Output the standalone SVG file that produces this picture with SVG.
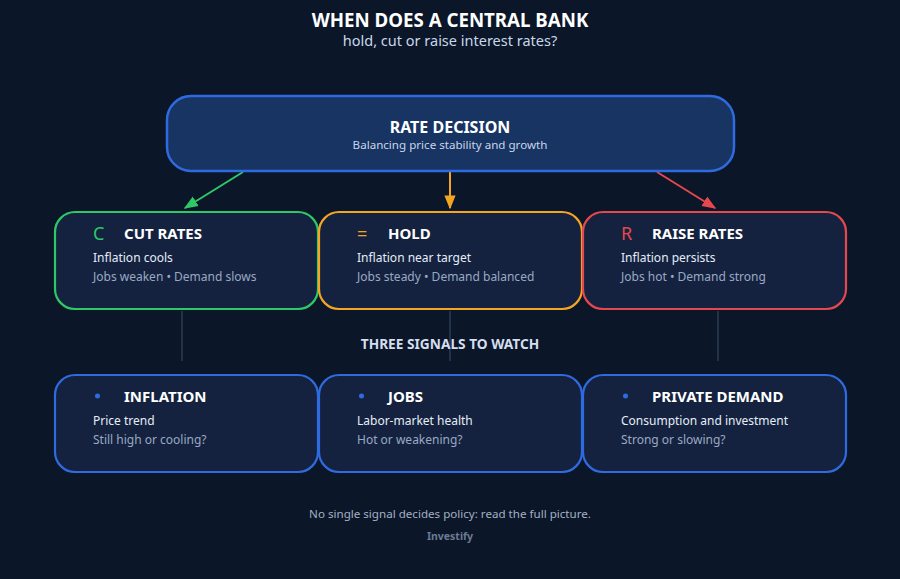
<svg xmlns="http://www.w3.org/2000/svg" width="900" height="579" viewBox="0 0 900 579">
<defs>
<style>
text{font-family:"Noto Sans","Open Sans","DejaVu Sans",sans-serif}
.t{fill:#ffffff;font-weight:700}
.s{fill:#c9d6ea}
.m{fill:#e6edf7;font-size:12px}
.d{fill:#9aa9c1;font-size:12px}
.box{fill:#142240;stroke-width:2.2}
.h{font-size:15px;font-weight:700;fill:#ffffff}
.ic{font-size:18px}
</style>
<marker id="ag" viewBox="0 0 10 10" refX="9" refY="5" markerWidth="7" markerHeight="7" orient="auto-start-reverse"><path d="M0,1 L10,5 L0,9 z" fill="#2ec866"/></marker>
<marker id="ao" viewBox="0 0 10 10" refX="9" refY="5" markerWidth="7" markerHeight="7" orient="auto-start-reverse"><path d="M0,1 L10,5 L0,9 z" fill="#f4a623"/></marker>
<marker id="ar" viewBox="0 0 10 10" refX="9" refY="5" markerWidth="7" markerHeight="7" orient="auto-start-reverse"><path d="M0,1 L10,5 L0,9 z" fill="#e5484d"/></marker>
</defs>
<rect width="900" height="579" fill="#0b1628"/>
<text x="450" y="27" text-anchor="middle" class="t" font-size="18.7">WHEN DOES A CENTRAL BANK</text>
<text x="450" y="46" text-anchor="middle" class="s" font-size="14.5">hold, cut or raise interest rates?</text>

<g id="connectors">
<line x1="243" y1="172" x2="185" y2="208" stroke="#2ec866" stroke-width="2" marker-end="url(#ag)"/>
<line x1="450" y1="172" x2="450" y2="208" stroke="#f4a623" stroke-width="2" marker-end="url(#ao)"/>
<line x1="657" y1="172" x2="715" y2="208" stroke="#e5484d" stroke-width="2" marker-end="url(#ar)"/>
<line x1="182" y1="311" x2="182" y2="361" stroke="#3a4f6e" stroke-width="1"/>
<line x1="450" y1="311" x2="450" y2="361" stroke="#3a4f6e" stroke-width="1"/>
<line x1="718" y1="311" x2="718" y2="361" stroke="#3a4f6e" stroke-width="1"/>
</g>

<g id="rate-decision">
<rect x="167" y="96" width="567" height="75" rx="24" fill="#173462" stroke="#2f6be0" stroke-width="2.5"/>
<text x="450" y="133" text-anchor="middle" class="t" font-size="16">RATE DECISION</text>
<text x="450" y="149" text-anchor="middle" class="s" font-size="11.6">Balancing price stability and growth</text>
</g>

<g id="cut-rates">
<rect x="55" y="212" width="263" height="97" rx="20" class="box" stroke="#2ec866"/>
<text x="93" y="240" class="ic" fill="#2ec866">C</text>
<text x="124" y="239" class="h">CUT RATES</text>
<text x="93" y="262" class="m">Inflation cools</text>
<text x="93" y="281" class="d">Jobs weaken • Demand slows</text>
</g>

<g id="hold">
<rect x="319" y="212" width="263" height="97" rx="20" class="box" stroke="#f4a623"/>
<text x="357" y="240" class="ic" fill="#f4a623">=</text>
<text x="388" y="239" class="h">HOLD</text>
<text x="357" y="262" class="m">Inflation near target</text>
<text x="357" y="281" class="d">Jobs steady • Demand balanced</text>
</g>

<g id="raise-rates">
<rect x="583" y="212" width="263" height="97" rx="20" class="box" stroke="#e5484d"/>
<text x="621" y="240" class="ic" fill="#e5484d">R</text>
<text x="652" y="239" class="h">RAISE RATES</text>
<text x="621" y="262" class="m">Inflation persists</text>
<text x="621" y="281" class="d">Jobs hot • Demand strong</text>
</g>

<text x="450" y="349" text-anchor="middle" font-size="13.7" font-weight="700" fill="#d4deee">THREE SIGNALS TO WATCH</text>

<g id="inflation">
<rect x="55" y="375" width="263" height="97" rx="20" class="box" stroke="#2f6be0"/>
<circle cx="97.5" cy="396" r="2.5" fill="#2f6be0"/>
<text x="124" y="402" class="h">INFLATION</text>
<text x="93" y="425" class="m">Price trend</text>
<text x="93" y="444" class="d">Still high or cooling?</text>
</g>

<g id="jobs">
<rect x="319" y="375" width="263" height="97" rx="20" class="box" stroke="#2f6be0"/>
<circle cx="361.5" cy="396" r="2.5" fill="#2f6be0"/>
<text x="388" y="402" class="h">JOBS</text>
<text x="357" y="425" class="m">Labor-market health</text>
<text x="357" y="444" class="d">Hot or weakening?</text>
</g>

<g id="private-demand">
<rect x="583" y="375" width="263" height="97" rx="20" class="box" stroke="#2f6be0"/>
<circle cx="625.5" cy="396" r="2.5" fill="#2f6be0"/>
<text x="652" y="402" class="h">PRIVATE DEMAND</text>
<text x="621" y="425" class="m">Consumption and investment</text>
<text x="621" y="444" class="d">Strong or slowing?</text>
</g>

<text x="450" y="518" text-anchor="middle" font-size="11.6" fill="#a3b0c4">No single signal decides policy: read the full picture.</text>
<text x="450" y="540" text-anchor="middle" font-size="10.5" font-weight="700" fill="#6b7a92">Investify</text>
</svg>
